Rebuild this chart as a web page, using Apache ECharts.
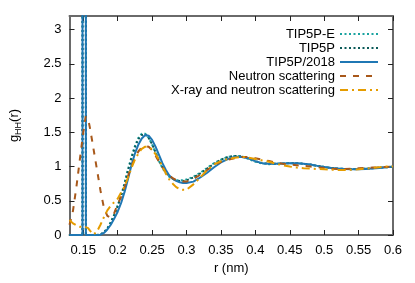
<!DOCTYPE html>
<html><head><meta charset="utf-8">
<script src="https://cdn.jsdelivr.net/npm/echarts@6/dist/echarts.min.js"></script>
<style>html,body{margin:0;padding:0;background:#fff}#c{width:415px;height:283px}</style>
</head><body><div id="c"></div>
<script>
// ---- data ----
const seriesNames = ['TIP5P-E', 'TIP5P', 'TIP5P/2018', 'Neutron scattering', 'X-ray and neutron scattering'];
const xTicks = [0.15, 0.2, 0.25, 0.3, 0.35, 0.4, 0.45, 0.5, 0.55, 0.6];
const yTicks = [0, 0.5, 1, 1.5, 2, 2.5, 3];

const rModel = [0.13, 0.1489, 0.149, 0.1537, 0.1538, 0.165, 0.17, 0.175, 0.18, 0.185, 0.19, 0.195, 0.2, 0.205, 0.21, 0.215, 0.22, 0.225, 0.23, 0.235, 0.24, 0.245, 0.25, 0.255, 0.26, 0.265, 0.27, 0.275, 0.28, 0.285, 0.29, 0.295, 0.3, 0.31, 0.32, 0.33, 0.34, 0.35, 0.36, 0.37, 0.38, 0.39, 0.4, 0.41, 0.42, 0.43, 0.44, 0.45, 0.46, 0.47, 0.48, 0.49, 0.5, 0.51, 0.52, 0.53, 0.54, 0.55, 0.56, 0.57, 0.58, 0.59, 0.6];
const gTIP5PE = [0, 0, 60, 60, 0, 0, 0, 0.01, 0.04, 0.1, 0.19, 0.3, 0.43, 0.58, 0.76, 0.96, 1.14, 1.3, 1.42, 1.48, 1.48, 1.42, 1.32, 1.2, 1.08, 0.98, 0.9, 0.85, 0.82, 0.8, 0.8, 0.8, 0.81, 0.85, 0.91, 0.98, 1.05, 1.1, 1.14, 1.155, 1.15, 1.11, 1.07, 1.045, 1.035, 1.04, 1.045, 1.05, 1.05, 1.04, 1.025, 1.01, 0.995, 0.98, 0.97, 0.965, 0.965, 0.965, 0.97, 0.975, 0.985, 0.99, 0.995];
const gTIP5P = [0, 0, 60, 60, 0, 0, 0, 0.01, 0.04, 0.09, 0.18, 0.29, 0.42, 0.57, 0.74, 0.94, 1.12, 1.28, 1.4, 1.46, 1.47, 1.42, 1.33, 1.21, 1.09, 0.99, 0.91, 0.86, 0.82, 0.8, 0.79, 0.79, 0.8, 0.84, 0.9, 0.97, 1.04, 1.1, 1.14, 1.155, 1.15, 1.12, 1.08, 1.05, 1.04, 1.04, 1.045, 1.05, 1.05, 1.04, 1.03, 1.01, 0.995, 0.98, 0.97, 0.965, 0.96, 0.965, 0.97, 0.975, 0.985, 0.99, 0.995];
const gTIP5P2018 = [0, 0, 60, 60, 0, 0, 0, 0.005, 0.03, 0.08, 0.15, 0.24, 0.34, 0.47, 0.63, 0.82, 1.02, 1.19, 1.32, 1.41, 1.46, 1.45, 1.39, 1.29, 1.17, 1.05, 0.95, 0.87, 0.82, 0.79, 0.77, 0.76, 0.76, 0.78, 0.84, 0.91, 0.99, 1.06, 1.11, 1.14, 1.14, 1.12, 1.08, 1.05, 1.04, 1.04, 1.045, 1.05, 1.05, 1.04, 1.03, 1.01, 0.995, 0.98, 0.97, 0.965, 0.96, 0.96, 0.965, 0.97, 0.98, 0.99, 1.0];

const rExp = [0.13, 0.135, 0.14, 0.145, 0.15, 0.1535, 0.157, 0.16, 0.165, 0.17, 0.175, 0.18, 0.185, 0.19, 0.195, 0.2, 0.205, 0.21, 0.215, 0.22, 0.225, 0.23, 0.235, 0.24, 0.245, 0.25, 0.255, 0.26, 0.265, 0.27, 0.275, 0.28, 0.285, 0.29, 0.295, 0.3, 0.31, 0.32, 0.33, 0.34, 0.35, 0.36, 0.37, 0.38, 0.39, 0.4, 0.41, 0.42, 0.43, 0.44, 0.45, 0.46, 0.47, 0.48, 0.49, 0.5, 0.51, 0.52, 0.53, 0.54, 0.55, 0.56, 0.57, 0.58, 0.59, 0.6];
const gNeutron = [0.15, 0.35, 0.7, 1.1, 1.5, 1.73, 1.7, 1.55, 1.25, 0.95, 0.65, 0.4, 0.28, 0.25, 0.32, 0.45, 0.56, 0.7, 0.86, 1.0, 1.12, 1.22, 1.28, 1.3, 1.29, 1.24, 1.16, 1.07, 0.99, 0.92, 0.87, 0.83, 0.8, 0.79, 0.78, 0.78, 0.82, 0.88, 0.95, 1.02, 1.07, 1.1, 1.12, 1.14, 1.14, 1.12, 1.1, 1.08, 1.06, 1.04, 1.03, 1.02, 1.01, 1.0, 0.99, 0.98, 0.97, 0.965, 0.965, 0.97, 0.975, 0.98, 0.985, 0.99, 0.995, 1.0];
const gXrayNeutron = [0.22, 0.17, 0.14, 0.12, 0.12, 0.115, 0.1, 0.06, 0.01, 0.05, 0.15, 0.26, 0.36, 0.43, 0.48, 0.53, 0.62, 0.71, 0.84, 0.98, 1.1, 1.19, 1.26, 1.29, 1.29, 1.25, 1.18, 1.1, 1.0, 0.9, 0.81, 0.75, 0.7, 0.67, 0.66, 0.66, 0.74, 0.84, 0.95, 1.03, 1.08, 1.11, 1.13, 1.14, 1.13, 1.11, 1.09, 1.07, 1.04, 1.02, 1.0, 0.985, 0.975, 0.97, 0.965, 0.96, 0.955, 0.95, 0.95, 0.955, 0.96, 0.97, 0.98, 0.99, 1.0, 1.0];

// ---- chart ----
const zip = (xs, ys) => xs.map((x, i) => [x, ys[i]]);
const FONT = 'Liberation Sans';
const borderColor = '#6a6a6a';
const chart = echarts.init(document.getElementById('c'), null, {renderer: 'canvas'});

function xAx(pos, labels) {
  return {
    type: 'value', position: pos, min: 0.13, max: 0.6,
    axisLine: {show: true, onZero: false, lineStyle: {color: borderColor, width: 2}},
    axisTick: {show: true, inside: true, length: 5, customValues: xTicks, lineStyle: {color: '#222', width: 1}},
    axisLabel: {show: labels, customValues: xTicks, margin: 9, color: '#000', fontSize: 13, fontFamily: FONT},
    splitLine: {show: false},
    name: labels ? 'r (nm)' : '', nameLocation: 'middle', nameGap: 23,
    nameTextStyle: {color: '#000', fontSize: 13, fontFamily: FONT}
  };
}
function yAx(pos, labels) {
  return {
    type: 'value', position: pos, min: 0, max: 3.2,
    axisLine: {show: true, onZero: false, lineStyle: {color: borderColor, width: 2}},
    axisTick: {show: true, inside: true, length: 5, customValues: yTicks, lineStyle: {color: '#222', width: 1}},
    axisLabel: {show: labels, customValues: yTicks, margin: 8, color: '#000', fontSize: 13, fontFamily: FONT},
    splitLine: {show: false},
    name: labels ? '{g|g}{s|HH}{g|(r)}' : '', nameLocation: 'middle', nameGap: 46, nameRotate: 90,
    nameTextStyle: {
      color: '#000', fontFamily: FONT,
      rich: {
        g: {fontSize: 13, lineHeight: 18, fontFamily: FONT, color: '#000'},
        s: {fontSize: 9, lineHeight: 10, verticalAlign: 'bottom', fontFamily: FONT, color: '#000'}
      }
    }
  };
}

const styles = [
  {color: '#1aa3a0', type: [2, 2.5], width: 2},
  {color: '#0b5a58', type: [2, 2.5], width: 2},
  {color: '#1f77b4', type: 'solid', width: 2},
  {color: '#a8581a', type: [6, 7], width: 2},
  {color: '#e59c00', type: [8, 4, 2, 4], width: 2}
];
const datas = [zip(rModel, gTIP5PE), zip(rModel, gTIP5P), zip(rModel, gTIP5P2018), zip(rExp, gNeutron), zip(rExp, gXrayNeutron)];
const series = seriesNames.map((n, i) => ({
  name: n, type: 'line', data: datas[i], showSymbol: false, symbol: 'none',
  smooth: false, clip: true, animation: false,
  lineStyle: styles[i], itemStyle: {color: styles[i].color}
}));

chart.setOption({
  animation: false,
  grid: {left: 65, right: 22, top: 16, bottom: 48, containLabel: false},
  xAxis: [xAx('bottom', true), xAx('top', false)],
  yAxis: [yAx('left', true), yAx('right', false)],
  legend: {
    orient: 'vertical', right: 31, top: 22, align: 'right',
    itemWidth: 38, itemHeight: 10, itemGap: 0,
    itemStyle: {opacity: 0},
    textStyle: {fontSize: 13, fontFamily: FONT, color: '#000', lineHeight: 14},
    data: seriesNames
  },
  series: series
});
</script>
</body></html>
